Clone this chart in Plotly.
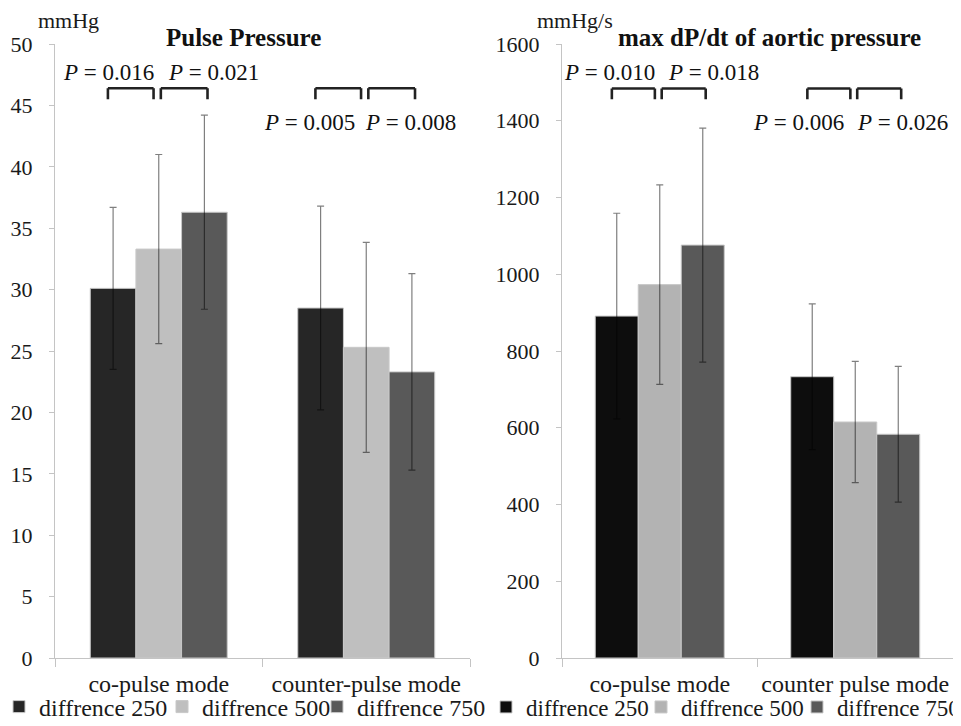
import plotly.graph_objects as go

# ---------------- data ----------------
modes_left = ["co-pulse mode", "counter-pulse mode"]
modes_right = ["co-pulse mode", "counter pulse mode"]
series_names = ["diffrence 250", "diffrence 500", "diffrence 750"]

pp_250 = [30.1, 28.5]
pp_500 = [33.3, 25.3]
pp_750 = [36.3, 23.3]
pp_250_sd = [6.6, 8.3]
pp_500_sd = [7.7, 8.55]
pp_750_sd = [7.9, 8.0]

dp_250 = [891, 733]
dp_500 = [973, 615]
dp_750 = [1076, 583]
dp_250_sd = [268, 190]
dp_500_sd = [260, 158]
dp_750_sd = [305, 177]

left_p_top = ["0.016", "0.021"]
left_p_bottom = ["0.005", "0.008"]
right_p_top = ["0.010", "0.018"]
right_p_bottom = ["0.006", "0.026"]

left_ticks = list(range(0, 51, 5))
right_ticks = list(range(0, 1601, 200))

# ---------------- style ----------------
FONT = "Liberation Serif"
colors_left = ["#262626", "#bfbfbf", "#595959"]
colors_right = ["#0d0d0d", "#b3b3b3", "#595959"]
AXIS_COL = "#c4c4c4"
ERR_COL = "rgba(0,0,0,0.5)"

# the page body has an 8px margin; size the figure so it fits the 961x726 window
OFF = 8
W, H = 961 - OFF, 726 - OFF


def xp(px):
    return (px - OFF) / W


def yp(py):
    return 1 - (py - OFF) / H


fig = go.Figure()

left_vals = [pp_250, pp_500, pp_750]
left_sds = [pp_250_sd, pp_500_sd, pp_750_sd]
right_vals = [dp_250, dp_500, dp_750]
right_sds = [dp_250_sd, dp_500_sd, dp_750_sd]

legend_ids = ["legend", "legend2", "legend3", "legend4", "legend5", "legend6"]

for i in range(3):
    fig.add_trace(go.Bar(
        x=modes_left, y=left_vals[i], name=series_names[i],
        marker=dict(color=colors_left[i], line=dict(color="#c8c8c8", width=1)),
        error_y=dict(type="data", array=left_sds[i], color=ERR_COL, thickness=1.2, width=3.5),
        xaxis="x", yaxis="y", legend=legend_ids[i], showlegend=True,
    ))
for i in range(3):
    fig.add_trace(go.Bar(
        x=modes_right, y=right_vals[i], name=series_names[i],
        marker=dict(color=colors_right[i], line=dict(color="#c8c8c8", width=1)),
        error_y=dict(type="data", array=right_sds[i], color=ERR_COL, thickness=1.2, width=3.5),
        xaxis="x2", yaxis="y2", legend=legend_ids[3 + i], showlegend=True,
    ))

ydom = [yp(658), yp(44)]

common_x = dict(
    type="category", showline=True, linecolor=AXIS_COL, linewidth=1,
    ticks="outside", tickson="boundaries", ticklen=8, tickcolor=AXIS_COL,
    tickfont=dict(family=FONT, size=24, color="#1a1a1a"), tickangle=0,
    showgrid=False, zeroline=False, ticklabelstandoff=4, automargin=False,
)
common_y = dict(
    showline=True, linecolor=AXIS_COL, linewidth=1,
    ticks="outside", ticklen=5, tickcolor=AXIS_COL,
    tickfont=dict(family=FONT, size=22, color="#1a1a1a"),
    showgrid=False, zeroline=False, ticklabelstandoff=12, automargin=False,
)


def leg(x, size=24):
    return dict(orientation="h", x=x, xanchor="left", y=yp(707), yanchor="middle",
                font=dict(family=FONT, size=size, color="#1a1a1a"),
                bgcolor="rgba(0,0,0,0)", itemwidth=30, tracegroupgap=0)


fig.update_layout(
    width=W, height=H,
    margin=dict(l=0, r=0, t=0, b=0, autoexpand=False),
    paper_bgcolor="white", plot_bgcolor="white",
    showlegend=True,
    barmode="group", bargap=0.34, bargroupgap=0,
    font=dict(family=FONT, color="#1a1a1a"),
    xaxis=dict(domain=[xp(55), xp(470)], anchor="y", **common_x),
    xaxis2=dict(domain=[xp(562), xp(953)], anchor="y2", **common_x),
    yaxis=dict(domain=ydom, anchor="x", range=[0, 50], tickvals=left_ticks, **common_y),
    yaxis2=dict(domain=ydom, anchor="x2", range=[0, 1600], tickvals=right_ticks, **common_y),
    legend=leg(xp(35 - 36)),
    legend2=leg(xp(198 - 36)),
    legend3=leg(xp(353 - 36)),
    legend4=leg(xp(522 - 36), size=23),
    legend5=leg(xp(677 - 36), size=23),
    legend6=leg(xp(833 - 36), size=23),
)

annotations = []
shapes = []

# titles and units
annotations.append(dict(text="<b>Pulse Pressure</b>", x=xp(243), y=yp(37), xref="paper", yref="paper",
                        xanchor="center", yanchor="middle",
                        showarrow=False, font=dict(family=FONT, size=25, color="#111")))
annotations.append(dict(text="<b>max dP/dt of aortic pressure</b>", x=xp(769), y=yp(37), xref="paper",
                        yref="paper", xanchor="center", yanchor="middle",
                        showarrow=False, font=dict(family=FONT, size=25, color="#111")))
annotations.append(dict(text="mmHg", x=xp(36), y=yp(21), xref="paper", yref="paper", xanchor="left",
                        yanchor="middle", showarrow=False, font=dict(family=FONT, size=22, color="#1a1a1a")))
annotations.append(dict(text="mmHg/s", x=xp(535), y=yp(21), xref="paper", yref="paper", xanchor="left",
                        yanchor="middle", showarrow=False, font=dict(family=FONT, size=22, color="#1a1a1a")))

# brackets (in category-index units on each x axis)
bracket_spans = [(-0.245, -0.025), (0.01, 0.235)]


def add_brackets(xref, yref, y_low, y_high):
    for c in range(2):
        for (a, b) in bracket_spans:
            x0, x1 = c + a, c + b
            ln = dict(color="#222", width=2.6)
            shapes.append(dict(type="line", xref=xref, yref=yref, x0=x0, x1=x1, y0=y_high, y1=y_high, line=ln))
            shapes.append(dict(type="line", xref=xref, yref=yref, x0=x0, x1=x0, y0=y_low, y1=y_high, line=ln))
            shapes.append(dict(type="line", xref=xref, yref=yref, x0=x1, x1=x1, y0=y_low, y1=y_high, line=ln))


add_brackets("x", "y", 45.5, 46.4)
add_brackets("x2", "y2", 1456, 1484)


def p_label(v):
    return "<i>P</i> = " + v


def add_p(xref, yref, xs, y, labels):
    for xv, lab in zip(xs, labels):
        annotations.append(dict(text=p_label(lab), x=xv, y=y, xref=xref, yref=yref, showarrow=False,
                                font=dict(family=FONT, size=23, color="#111")))


add_p("x", "y", [-0.24, 0.265], 47.7, left_p_top)
add_p("x", "y", [1 - 0.275, 1 + 0.215], 43.6, left_p_bottom)
add_p("x2", "y2", [-0.255, 0.275], 1525, right_p_top)
add_p("x2", "y2", [1 - 0.29, 1 + 0.24], 1396, right_p_bottom)

fig.update_layout(annotations=annotations, shapes=shapes)

fig.write_html("out.html")
